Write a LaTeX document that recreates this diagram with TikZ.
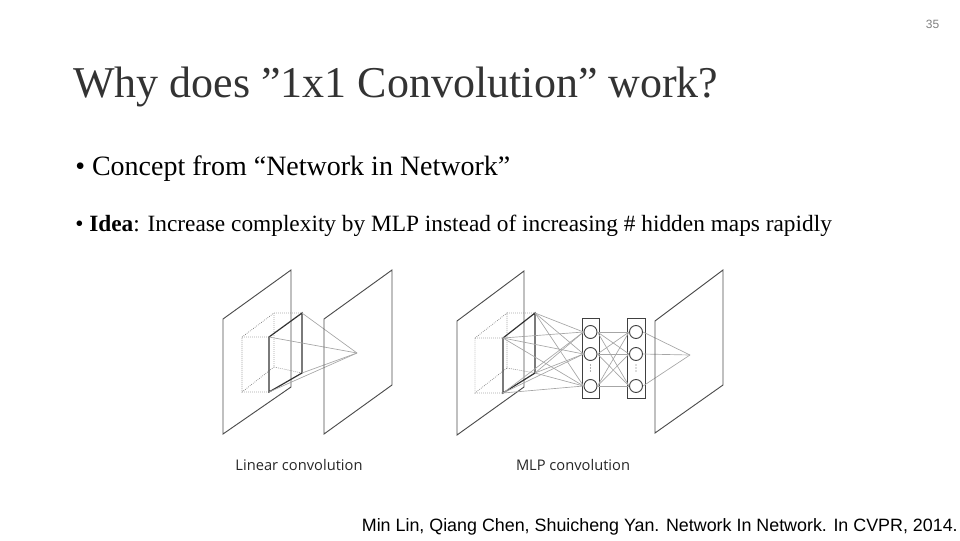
\documentclass[tikz,border=0pt]{standalone}
\usepackage{fontspec}
\setmainfont{Liberation Serif}
\newfontfamily\labfont{Open Sans}
\newfontfamily\citefont{Liberation Sans}
\begin{document}
\begin{tikzpicture}[x=0.75pt,y=-0.75pt,
  plane/.style={draw=black!70,line width=0.7pt},
  sq/.style={draw=black!80,line width=0.9pt},
  dots/.style={draw=black!55,densely dotted,line width=0.5pt},
  conn/.style={draw=black!35,line width=0.5pt},
  neuron/.style={circle,draw=black!75,line width=0.7pt,minimum size=9.75pt,inner sep=0pt},
  layerbox/.style={draw=black!75,line width=0.7pt}]
\path[use as bounding box] (0,0) rectangle (960,540);
\node[anchor=north east,font=\citefont\fontsize{9}{10}\selectfont,text=black!50] (pg) at (944,15) {35};
\node[anchor=base west,inner sep=0pt,font=\fontsize{33}{36}\selectfont,text=black!80] (title) at (73,97) {Why does \symbol{34}1x1 Convolution\symbol{34} work?};
\node[anchor=base west,inner sep=0pt,font=\fontsize{21}{23}\selectfont] (b1) at (75,175) {\textbullet\ Concept from “Network in Network”};
\node[anchor=base west,inner sep=0pt,font=\fontsize{17.5}{19}\selectfont] (b2) at (75,231) {\textbullet\ \textbf{Idea}: Increase complexity by MLP instead of increasing \# hidden maps rapidly};
% left panel
\coordinate (la) at (357,353);
\draw[plane] (223,319) -- (291,270) -- (291,387) -- (223,434) -- cycle;
\draw[dots] (242,337) -- (274,313) -- (274,367) -- (242,392) -- cycle;
\draw[dots] (242,337) -- (269,337) (274,313) -- (302,313) (274,367) -- (302,373) (242,392) -- (269,392);
\draw[sq] (269,337) coordinate (l1) -- (302,313) coordinate (l2) -- (302,373) coordinate (l3) -- (269,392) coordinate (l4) -- cycle;
\foreach \c in {l1,l2,l3,l4} \draw[conn] (\c) -- (la);
\draw[plane] (324,319) -- (392,270) -- (392,385) -- (324,434) -- cycle;
\node[font=\labfont\fontsize{11}{12}\selectfont,text=black!85] (lt) at (299,465) {Linear convolution};
% right panel
\coordinate (ra) at (690,355);
\draw[plane] (457,321) -- (524,271) -- (524,387) -- (457,435) -- cycle;
\draw[dots] (475,338) -- (507,313) -- (507,368) -- (475,393) -- cycle;
\draw[dots] (475,338) -- (503,338) (507,313) -- (535,313) (507,368) -- (535,373) (475,393) -- (503,393);
\draw[sq] (503,338) coordinate (r1) -- (535,313) coordinate (r2) -- (535,373) coordinate (r3) -- (503,393) coordinate (r4) -- cycle;
\draw[layerbox] (582,318) rectangle (599,398);
\draw[layerbox] (627,318) rectangle (645,398);
\node[neuron] (a1) at (590.5,332) {};
\node[neuron] (a2) at (590.5,354) {};
\node[neuron] (a3) at (590.5,386) {};
\node[neuron] (c1) at (636,332) {};
\node[neuron] (c2) at (636,354) {};
\node[neuron] (c3) at (636,386) {};
\foreach \y in {365,368,371} {\fill[black!60] (590.5,\y) circle (0.4pt); \fill[black!60] (636,\y) circle (0.4pt);}
\foreach \c in {r1,r2,r3,r4} \foreach \n in {a1,a2,a3} \draw[conn] (\c) -- (\n.west);
\foreach \n in {a1,a2,a3} \foreach \m in {c1,c2,c3} \draw[conn] (\n.east) -- (\m.west);
\foreach \m in {c1,c2,c3} \draw[conn] (\m.east) -- (ra);
\draw[plane] (655,321) -- (723,270) -- (723,385) -- (655,433) -- cycle;
\node[font=\labfont\fontsize{11}{12}\selectfont,text=black!85] (mt) at (573,465) {MLP convolution};
\node[anchor=base east,inner sep=0pt,font=\citefont\fontsize{13.4}{14}\selectfont] (cite) at (958,531) {Min Lin, Qiang Chen, Shuicheng Yan. Network In Network. In CVPR, 2014.};
\end{tikzpicture}
\end{document}
